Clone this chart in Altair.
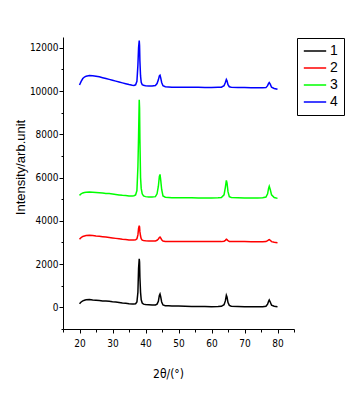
import altair as alt
import pandas as pd

two_theta = [20, 20.5, 21, 21.5, 22,
             23, 24, 25, 26, 27, 28, 29, 30, 31, 32, 33, 34, 35, 36, 36.5,
             37, 37.4, 37.7, 37.9, 38.1, 38.2, 38.3, 38.5, 38.7, 39.0, 39.4,
             40, 41, 42, 43, 43.5,
             43.9, 44.2, 44.4, 44.6, 44.9, 45.3,
             46, 47, 48, 50, 52, 54, 56, 58, 60, 62, 63,
             63.8, 64.2, 64.5, 64.7, 65.0, 65.4, 66,
             68, 70, 72, 74, 75.5, 76.5,
             77.0, 77.3, 77.5, 77.8, 78.2, 79, 80]

s1 = [170, 250, 300, 330, 350,
      360, 340, 330, 320, 300, 290, 280, 260, 250, 230, 200, 190, 170, 160, 160,
      170, 250, 700, 1800, 2250, 2100, 1400, 700, 350, 200, 150,
      130, 120, 110, 110, 150,
      280, 550, 620, 500, 250, 110,
      80, 70, 60, 60, 50, 40, 40, 40, 30, 40, 50,
      120, 300, 560, 480, 220, 90, 50,
      40, 30, 30, 30, 30, 50,
      150, 280, 340, 250, 100, 50, 30]

s2 = [3150, 3230, 3280, 3300, 3320,
      3330, 3320, 3300, 3290, 3270, 3250, 3230, 3210, 3190, 3170, 3150, 3140, 3120, 3110, 3110,
      3120, 3170, 3350, 3650, 3780, 3720, 3500, 3300, 3180, 3110, 3090,
      3080, 3070, 3070, 3070, 3100,
      3160, 3230, 3250, 3210, 3130, 3070,
      3050, 3040, 3040, 3040, 3040, 3040, 3040, 3040, 3040, 3040, 3040,
      3060, 3100, 3150, 3130, 3080, 3050, 3040,
      3040, 3040, 3030, 3030, 3030, 3040,
      3080, 3120, 3130, 3100, 3040, 3010, 2990]

s3 = [5180, 5250, 5290, 5310, 5320,
      5330, 5320, 5310, 5300, 5290, 5270, 5260, 5240, 5220, 5200, 5180, 5170, 5150, 5150, 5160,
      5200, 5400, 6500, 7900, 9600, 9200, 7800, 6000, 5500, 5250, 5150,
      5120, 5100, 5100, 5120, 5250,
      5600, 6050, 6150, 5900, 5450, 5150,
      5090, 5080, 5070, 5070, 5070, 5070, 5060, 5060, 5060, 5070, 5080,
      5200, 5550, 5870, 5750, 5350, 5120, 5080,
      5070, 5060, 5060, 5060, 5070, 5100,
      5250, 5500, 5600, 5450, 5200, 5080, 5040]

s4 = [10280, 10450, 10580, 10650, 10690,
      10720, 10710, 10690, 10660, 10620, 10580, 10540, 10500, 10460, 10420, 10380, 10340, 10300, 10270, 10260,
      10290, 10450, 11200, 12000, 12340, 12100, 11400, 10700, 10400, 10300, 10270,
      10250, 10240, 10240, 10260, 10350,
      10520, 10700, 10730, 10620, 10400, 10250,
      10200, 10190, 10180, 10180, 10180, 10180, 10180, 10170, 10170, 10180, 10180,
      10250, 10400, 10540, 10480, 10300, 10200, 10180,
      10160, 10160, 10150, 10150, 10150, 10160,
      10250, 10350, 10390, 10320, 10180, 10120, 10080]

series_names = ["1", "2", "3", "4"]
series_colors = ["#000000", "#ff0000", "#00ff00", "#0000ff"]
x_ticks = [15, 20, 25, 30, 35, 40, 45, 50, 55, 60, 65, 70, 75, 80, 85]
y_ticks = [-1000, 0, 1000, 2000, 3000, 4000, 5000, 6000, 7000, 8000,
           9000, 10000, 11000, 12000]

rows = []
for name, ys in zip(series_names, [s1, s2, s3, s4]):
    assert len(ys) == len(two_theta)
    for i, (x, y) in enumerate(zip(two_theta, ys)):
        rows.append({"x": x, "y": y, "s": name, "o": i})
df = pd.DataFrame(rows)

narrow = "Liberation Sans Narrow, DejaVu Sans Condensed, Arial Narrow, sans-serif"

chart = alt.Chart(df).mark_line(strokeWidth=1.5).encode(
    x=alt.X("x:Q",
            scale=alt.Scale(domain=[15, 85], nice=False, zero=False),
            axis=alt.Axis(
                values=x_ticks,
                labelExpr="datum.value % 10 === 0 ? datum.label : ''",
                tickSize={"condition": {"test": "datum.value % 10 === 0", "value": 4}, "value": 3},
                labelPadding=5,
                grid=False,
                title="2θ/(°)",
                titleFont=narrow,
                titleFontSize=12,
                titleFontWeight="normal",
                titleX=105,
                titleY=44,
                titleBaseline="middle",
                titleAlign="center",
            )),
    y=alt.Y("y:Q",
            scale=alt.Scale(domain=[-1000, 12500], nice=False, zero=False),
            axis=alt.Axis(
                values=y_ticks,
                format="d",
                labelExpr="datum.value % 2000 === 0 ? datum.label : ''",
                tickSize={"condition": {"test": "datum.value % 2000 === 0", "value": 4}, "value": 2},
                labelPadding=1,
                grid=False,
                title="Intensity/arb.unit",
                titleFont="Liberation Sans, Arial, sans-serif",
                titleFontSize=13,
                titleFontWeight="normal",
                titleX=-43,
                titleY=130,
                titleAngle=-90,
                titleAlign="center",
                titleBaseline="middle",
            )),
    color=alt.Color("s:N",
                    scale=alt.Scale(domain=series_names, range=series_colors),
                    legend=alt.Legend(
                        title=None,
                        orient="none",
                        legendX=234,
                        legendY=1,
                        strokeColor="black",
                        padding=6,
                        symbolType="stroke",
                        symbolSize=500,
                        symbolStrokeWidth=1.5,
                        clipHeight=14,
                        labelFont="Liberation Sans, Arial, sans-serif",
                        labelFontSize=14,
                        labelColor="black",
                        labelOffset=3,
                        rowPadding=3,
                    )),
    order="o:Q",
).properties(
    width=231,
    height=292,
    padding={"left": 63, "top": 37, "right": 58, "bottom": 77},
    autosize="none",
).configure_view(
    stroke=None
).configure_axis(
    domainColor="black",
    tickColor="black",
    labelColor="black",
    titleColor="black",
    labelFont=narrow,
    labelFontSize=10,
    domainWidth=1,
    tickWidth=1,
)

chart.save("out.html", embed_options={"renderer": "svg", "actions": False})
